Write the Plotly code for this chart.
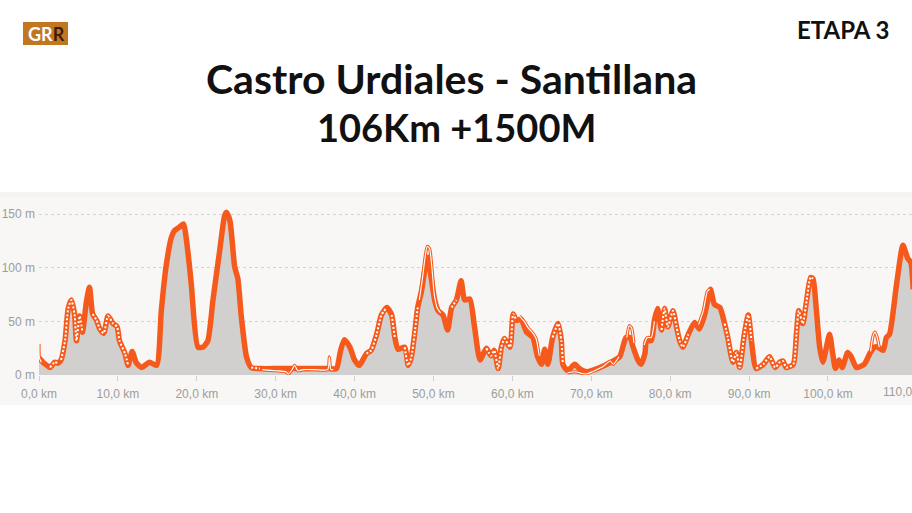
import plotly.graph_objects as go

# ---------------- data ----------------
km = [0.0, 0.5, 1.0, 1.4, 2.0, 2.4, 2.8, 3.3, 3.7, 4.1, 4.5, 4.75, 5.15, 5.5, 6.0, 6.4, 6.8, 7.3, 7.7, 8.2,
      8.75, 9.4, 9.9, 10.2, 10.9, 11.3, 11.8, 12.3, 13.0, 14.0, 14.9, 15.5, 16.1, 16.8, 17.2, 17.8, 18.3, 18.9,
      19.3, 20.15, 20.8, 21.4, 22.05, 22.9, 23.5, 23.75, 24.2, 24.8, 25.2, 25.65, 26.3, 26.9, 28.0, 30.5, 32.2,
      34.7, 36.8, 37.7, 38.2, 38.7, 39.4, 40.0, 40.6, 41.5, 42.1, 42.8, 43.4, 44.1, 44.7, 45.1, 45.5, 46.35,
      46.8, 47.2, 47.6, 48.0, 48.5, 48.9, 49.3, 49.7, 50.15, 50.6, 51.2, 51.8, 52.3, 52.9, 53.5, 53.95, 54.6,
      55.2, 55.9, 56.7, 57.3, 57.7, 58.2, 58.6, 59.0, 59.7, 60.1, 60.5, 61.1, 61.8, 62.6, 63.2, 63.7, 64.1,
      64.5, 65.1, 65.8, 66.2, 66.4, 67.0, 67.9, 68.5, 69.4, 71.1, 72.5, 73.6, 74.4, 74.9, 75.3, 75.9, 76.3,
      76.8, 77.0, 77.6, 78.0, 78.4, 78.9, 79.3, 79.7, 80.35, 80.8, 81.2, 81.6, 82.3, 83.1, 83.7, 84.4, 85.1,
      85.6, 86.3, 86.9, 87.3, 87.95, 88.4, 88.8, 89.4, 89.9, 90.3, 90.9, 91.8, 92.6, 93.3, 93.9, 94.3, 94.7,
      95.6, 96.0, 96.3, 96.8, 97.3, 97.8, 98.1, 98.5, 98.95, 99.35, 100.2, 100.6, 100.95, 101.4, 101.8, 102.5,
      102.95, 103.6, 104.6, 105.3, 105.9, 106.3, 107.0, 107.4, 107.8, 108.7, 109.5, 110.1, 110.5, 110.8]
elev = [16, 12, 9, 7, 12, 11, 14, 32, 62, 70, 57, 32, 55, 40, 68, 82, 57, 51, 43, 39,
        55, 48, 45, 32, 20, 9, 22, 12, 7, 12, 9, 60, 101, 129, 135, 138, 141, 113,
        85, 26, 26, 32, 70, 116, 148, 152, 144, 101, 90, 54, 17, 7, 6, 6, 6,
        6, 6, 6, 22, 33, 26, 14, 9, 20, 23, 38, 56, 63, 56, 35, 24, 26,
        9, 17, 38, 63, 79, 98, 110, 91, 70, 60, 56, 42, 63, 70, 88, 70, 71,
        45, 14, 25, 18, 23, 6, 26, 34, 26, 57, 51, 52, 40, 35, 17, 10, 24,
        10, 35, 48, 32, 10, 4, 10, 6, 3, 7, 12, 17, 35, 35, 26, 14, 10,
        20, 32, 32, 51, 62, 42, 62, 45, 60, 45, 32, 26, 38, 49, 43, 57, 80,
        66, 63, 48, 35, 12, 21, 7, 38, 56, 32, 6, 10, 17, 7, 12, 13, 7,
        10, 38, 60, 48, 70, 91, 90, 63, 26, 12, 38, 20, 6, 14, 7, 21,
        17, 7, 10, 20, 26, 26, 23, 35, 38, 85, 121, 109, 105, 80]

# stretches (km) where the second track overlaps the main one (dotted look)
dotted_ranges = [(1.2, 2.5), (2.8, 5.6), (6.6, 11.4), (26.4, 28.2), (41.3, 44.4), (44.6, 45.4),
                 (46.2, 48.3), (52.2, 52.9), (56.3, 60.5), (64.8, 66.5), (78.8, 82.4),
                 (86.6, 90.6), (90.9, 98.1)]

# second track where it separates from the main one
alt_segments = [
    ([0.0, 0.05, 0.3], [29, 16, 12]),
    ([28.3, 30.0, 31.3, 31.6, 32.0, 32.4, 32.8, 33.5, 35.0, 36.6, 36.8, 37.0, 37.3],
     [5, 4, 3, 1, 4, 9, 4, 5, 5, 5, 17, 5, 5]),
    ([48.2, 48.6, 48.9, 49.2, 49.5, 49.8, 50.1, 50.5, 50.9], [70, 90, 108, 120, 118, 100, 75, 62, 58]),
    ([60.9, 61.5, 62.0, 62.5, 63.0, 63.4], [55, 50, 44, 40, 34, 18]),
    ([67.0, 68.0, 69.3, 71.5, 72.4, 72.8, 73.5], [2, 3, 1, 8, 13, 10, 17]),
    ([74.5, 74.8, 75.1, 75.4], [35, 46, 44, 30]),
    ([76.7, 77.1, 77.6, 78.0], [28, 35, 35, 50]),
    ([83.6, 84.2, 84.7, 85.0], [47, 60, 78, 80]),
    ([105.4, 105.7, 105.95, 106.2, 106.5], [22, 36, 40, 36, 26]),
]

x_ticks = [0, 10, 20, 30, 40, 50, 60, 70, 80, 90, 100, 110]
x_tick_text = ["0,0 km", "10,0 km", "20,0 km", "30,0 km", "40,0 km", "50,0 km", "60,0 km",
               "70,0 km", "80,0 km", "90,0 km", "100,0 km", "110,0 km"]
y_ticks = [0, 50, 100, 150]
y_tick_text = ["0 m", "50 m", "100 m", "150 m"]

title_1 = "Castro Urdiales - Santillana"
title_2 = "106Km +1500M"
stage = "ETAPA 3"

# ---------------- layout helpers ----------------
W, H = 912, 513
ML, MR, MT, MB = 39, 0, 195, 138
PW, PH = W - ML - MR, H - MT - MB
X_MAX = 110.65


def xp(px):
    return (px - ML) / PW


def yp(py):
    return (H - MB - py) / PH


ORANGE = "#f55a1c"
TICK_FONT = dict(family="Liberation Sans, Arial, sans-serif", size=12, color="#9c9c9c")
TITLE_FAMILY = "Lato, Inter, sans-serif"

fig = go.Figure()

# area
fig.add_trace(go.Scatter(x=km, y=elev, mode="lines", fill="tozeroy", fillcolor="#d1d0cf",
                         line=dict(width=0, color="rgba(0,0,0,0)"), hoverinfo="skip", showlegend=False))

# alternative track (orange border + white core)
ax, ay = [], []
for sx, sy in alt_segments:
    ax += sx + [None]
    ay += sy + [None]
fig.add_trace(go.Scatter(x=ax, y=ay, mode="lines", line=dict(color=ORANGE, width=3.2, shape="spline",
                                                              smoothing=0.6),
                         connectgaps=False, showlegend=False, hoverinfo="skip"))

# main thick track
fig.add_trace(go.Scatter(x=km, y=elev, mode="lines",
                         line=dict(color=ORANGE, width=5.5, shape="spline", smoothing=0.6),
                         showlegend=False, hoverinfo="skip"))

fig.add_trace(go.Scatter(x=ax, y=ay, mode="lines", line=dict(color="white", width=1.1, shape="spline",
                                                              smoothing=0.6),
                         connectgaps=False, showlegend=False, hoverinfo="skip"))

# dotted overlap
dx, dy = [], []
for a, b in dotted_ranges:
    for k, e in zip(km, elev):
        if a <= k <= b:
            dx.append(k)
            dy.append(e)
    dx.append(None)
    dy.append(None)
fig.add_trace(go.Scatter(x=dx, y=dy, mode="lines",
                         line=dict(color="white", width=2, dash="2px,2px", shape="spline", smoothing=0.6),
                         connectgaps=False, showlegend=False, hoverinfo="skip"))

# background panel of the profile
fig.add_shape(type="rect", xref="paper", yref="paper", x0=xp(0), x1=xp(W), y0=yp(405), y1=yp(197),
              fillcolor="#f8f7f5", line=dict(width=0), layer="below")
fig.add_shape(type="rect", xref="paper", yref="paper", x0=xp(0), x1=xp(W), y0=yp(197), y1=yp(192),
              fillcolor="#f4f3f1", line=dict(width=0), layer="below")

# last tick label (sits partly past the right edge, as in the reference)
fig.add_annotation(x=x_ticks[-1], xref="x", yref="paper", y=yp(392), text=x_tick_text[-1],
                   showarrow=False, xanchor="center", yanchor="middle", font=TICK_FONT)

# logo
fig.add_shape(type="rect", xref="paper", yref="paper", x0=xp(23), x1=xp(68), y0=yp(45), y1=yp(22),
              fillcolor="#c2761f", line=dict(width=0))
fig.add_annotation(xref="paper", yref="paper", x=xp(46), y=yp(34),
                   text="<b>GR<span style='color:#3b1d0c'>R</span></b>", showarrow=False,
                   font=dict(family=TITLE_FAMILY, size=18, color="white"), xanchor="center",
                   yanchor="middle")

# titles
fig.add_annotation(xref="paper", yref="paper", x=xp(843), y=yp(29), text="<b>" + stage + "</b>",
                   showarrow=False, font=dict(family=TITLE_FAMILY, size=24, color="#111"),
                   xanchor="center", yanchor="middle")
fig.add_annotation(xref="paper", yref="paper", x=xp(451), y=yp(78), text="<b>" + title_1 + "</b>",
                   showarrow=False, font=dict(family=TITLE_FAMILY, size=41, color="#111"),
                   xanchor="center", yanchor="middle")
fig.add_annotation(xref="paper", yref="paper", x=xp(456), y=yp(127), text="<b>" + title_2 + "</b>",
                   showarrow=False, font=dict(family=TITLE_FAMILY, size=38, color="#111"),
                   xanchor="center", yanchor="middle")

fig.update_layout(
    width=W, height=H, margin=dict(l=ML, r=MR, t=MT, b=MB),
    paper_bgcolor="white", plot_bgcolor="rgba(0,0,0,0)",
    showlegend=False,
    xaxis=dict(range=[0, X_MAX], tickvals=x_ticks[:-1], ticktext=x_tick_text[:-1], showgrid=False,
               zeroline=False, ticks="outside", ticklen=5, tickcolor="#cfcfcf", showline=False,
               tickfont=TICK_FONT, ticklabelstandoff=3, fixedrange=True),
    yaxis=dict(range=[0, 168], tickvals=y_ticks, ticktext=y_tick_text, showgrid=True, gridcolor="#d3d3d3",
               griddash="3px,3px", gridwidth=1, zeroline=False, showline=False, ticks="",
               tickfont=TICK_FONT, ticklabelstandoff=3, fixedrange=True),
)

fig.write_html("out.html")
